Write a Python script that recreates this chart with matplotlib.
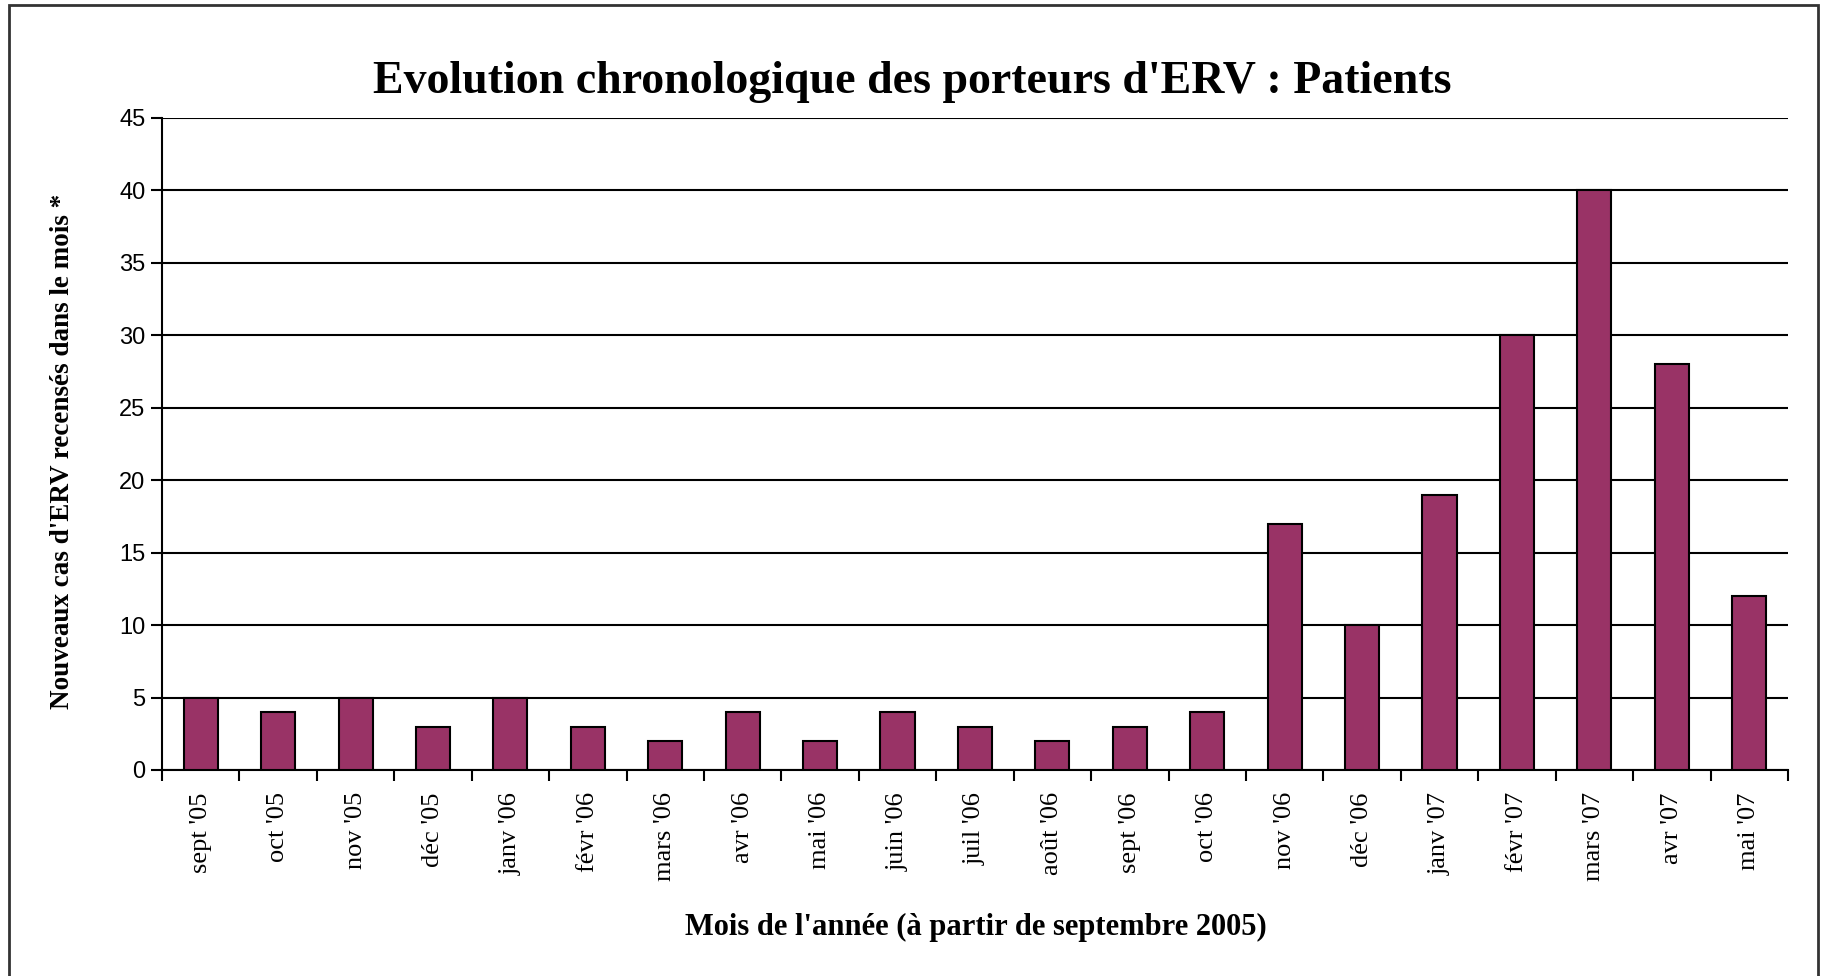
import matplotlib.pyplot as plt
import matplotlib.patches as mpatches
import numpy as np

# ── DATA ─────────────────────────────────────────────────────
months = ["sept '05", "oct '05", "nov '05", "déc '05", "janv '06", "févr '06",
          "mars '06", "avr '06", "mai '06", "juin '06", "juil '06", "août '06",
          "sept '06", "oct '06", "nov '06", "déc '06", "janv '07", "févr '07",
          "mars '07", "avr '07", "mai '07"]
new_cases = [5, 4, 5, 3, 5, 3, 2, 4, 2, 4, 3, 2, 3, 4, 17, 10, 19, 30, 40, 28, 12]
y_ticks = [0, 5, 10, 15, 20, 25, 30, 35, 40, 45]

plum = '#993366'
serif = 'Liberation Serif'

fig = plt.figure(figsize=(18.22, 9.76), dpi=100)
ax = fig.add_axes([0.0889, 0.2111, 0.8924, 0.6680])

# outer chart frame (bottom edge cut off in the source)
fig.patches.append(mpatches.Rectangle((9 / 1822, -0.05), (1818 - 9) / 1822, 1.05 - 5 / 976,
                                      transform=fig.transFigure, fill=False,
                                      edgecolor='#333333', linewidth=2))

x = np.arange(len(months))
ax.bar(x, new_cases, width=0.44, color=plum, edgecolor='black', linewidth=1.5, zorder=3)

ax.set_xlim(-0.5, len(months) - 0.5)
ax.set_ylim(0, 45)
ax.set_yticks(y_ticks)
ax.set_yticklabels([str(v) for v in y_ticks], fontsize=17, family='Liberation Sans')
ax.yaxis.grid(True, color='black', linewidth=1.5, zorder=0)
ax.set_axisbelow(True)

# month separators as major ticks, labels centred on bars as minor ticks
ax.set_xticks(np.arange(len(months) + 1) - 0.5, minor=False)
ax.set_xticklabels([])
ax.set_xticks(x, minor=True)
ax.set_xticklabels(months, minor=True, rotation=90, fontsize=19, family=serif)
ax.tick_params(axis='x', which='major', length=8, width=1.5, direction='out')
ax.tick_params(axis='x', which='minor', length=0, pad=16)
ax.tick_params(axis='y', length=8, width=1.5, direction='out', pad=4)

for side in ['top', 'right']:
    ax.spines[side].set_visible(False)
ax.spines['left'].set_linewidth(1.5)
ax.spines['bottom'].set_linewidth(1.5)

fig.text(912 / 1822, 1 - 82 / 976, "Evolution chronologique des porteurs d'ERV : Patients",
         ha='center', va='center', fontsize=33, fontweight='bold', family=serif)
fig.text(976 / 1822, 1 - 927 / 976, "Mois de l'année (à partir de septembre 2005)",
         ha='center', va='center', fontsize=22, fontweight='bold', family=serif)
fig.text(63 / 1822, 1 - 451 / 976, "Nouveaux cas d'ERV recensés dans le mois *",
         ha='center', va='center', rotation=90, fontsize=19.5, fontweight='bold', family=serif)

plt.savefig('out.png', dpi=100, facecolor='white')
plt.close()
